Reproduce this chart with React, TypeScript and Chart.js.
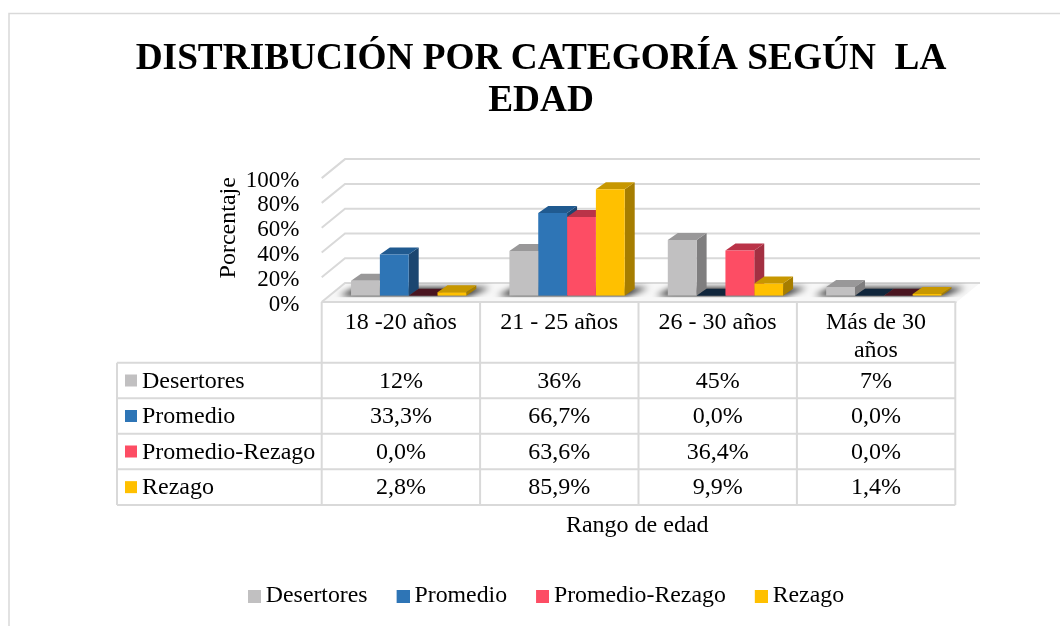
import React, { useEffect, useRef } from "react";
import { Chart, registerables } from "chart.js";

Chart.register(...registerables);

const categories = ["18 -20 años", "21 - 25 años", "26 - 30 años", ["Más de 30", "años"]];
const seriesNames = ["Desertores", "Promedio", "Promedio-Rezago", "Rezago"];
const desertores = [12, 36, 45, 7];
const promedio = [33.3, 66.7, 0, 0];
const promedioRezago = [0, 63.6, 36.4, 0];
const rezago = [2.8, 85.9, 9.9, 1.4];
const seriesValues = [desertores, promedio, promedioRezago, rezago];
const seriesDecimals = [0, 1, 1, 1];
const frontColors = ["#C1C0C1", "#2E75B6", "#FD4D64", "#FFC000"];
const topColors = ["#999899", "#205A90", "#BA3348", "#C79700"];
const sideColors = ["#7F7E7F", "#1C4670", "#A33042", "#A67D00"];
const zeroTopColors = ["#555555", "#10263C", "#4A1520", "#6B5000"];
const titleLines = ["DISTRIBUCIÓN POR CATEGORÍA SEGÚN  LA", "EDAD"];
const yTicks = [0, 20, 40, 60, 80, 100];

const SERIF = "'Liberation Serif', 'Times New Roman', serif";
const FS = 24;
const LEGEND_FS = 23.8;
const GRID = "#D9D9D9";
const DX = 10; // bar depth
const DY = 7;
const WALL_DX = 23.3;
const WALL_DY = 19;
const FLOOR_FRONT = 6.3; // distance from bar base to the front of the floor
const TABLE_LEFT = 117;
const COL_LEFT = 321.7;
const COL_W = 158.4;
const ROWS = [362.7, 398.3, 433.7, 469.3, 505];
const HEADER_TOP = 302;

function swatch(color: string) {
  const c = document.createElement("canvas");
  c.width = 20;
  c.height = 13;
  const g = c.getContext("2d")!;
  g.fillStyle = color;
  g.fillRect(7, 0, 13, 13);
  return c;
}

function poly(ctx: CanvasRenderingContext2D, pts: number[][], fill: string) {
  ctx.fillStyle = fill;
  ctx.beginPath();
  pts.forEach((p, i) => (i ? ctx.lineTo(p[0], p[1]) : ctx.moveTo(p[0], p[1])));
  ctx.closePath();
  ctx.fill();
}

const scenePlugin = {
  id: "scene",
  afterLayout(chart: any) {
    const lg = chart.legend;
    const pad = lg.options.labels.padding;
    const dy = 596 - (pad + LEGEND_FS / 2) - lg.top;
    lg.top += dy;
    lg.bottom += dy;
    lg.left += 5;
    lg.right += 5;
  },
  beforeDraw(chart: any) {
    const ctx: CanvasRenderingContext2D = chart.ctx;
    const y = chart.scales.y;
    const x0 = COL_LEFT;
    const xEnd = 980;
    ctx.save();
    // outer frame
    ctx.strokeStyle = GRID;
    ctx.lineWidth = 1.5;
    ctx.beginPath();
    ctx.moveTo(9, 626);
    ctx.lineTo(9, 13.5);
    ctx.lineTo(1060, 13.5);
    ctx.stroke();

    // floor
    const base = y.getPixelForValue(0) + FLOOR_FRONT;
    const fl = [
      [x0, base],
      [x0 + WALL_DX, base - WALL_DY],
      [xEnd, base - WALL_DY],
      [xEnd - WALL_DX, base],
    ];
    poly(ctx, fl, "#F7F7F7");

    // walls and gridlines
    ctx.strokeStyle = GRID;
    ctx.lineWidth = 2;
    yTicks.forEach((t) => {
      const py = y.getPixelForValue(t) + FLOOR_FRONT;
      ctx.beginPath();
      ctx.moveTo(x0, py);
      ctx.lineTo(x0 + WALL_DX, py - WALL_DY);
      ctx.lineTo(xEnd, py - WALL_DY);
      ctx.stroke();
    });
    ctx.beginPath();
    ctx.moveTo(x0, base);
    ctx.lineTo(xEnd - WALL_DX, base);
    ctx.strokeStyle = "#E4E4E4";
    ctx.stroke();

    // floor shadow under every group of bars
    const m0 = chart.getDatasetMeta(0).data;
    const m3 = chart.getDatasetMeta(3).data;
    const yBase = y.getPixelForValue(0);
    ctx.save();
    ctx.beginPath();
    ctx.rect(x0 + 6, yBase - 13, xEnd - x0, 14.5);
    ctx.clip();
    ctx.filter = "blur(3px)";
    m0.forEach((b: any, i: number) => {
      const l = b.x - b.width / 2;
      const r = m3[i].x + m3[i].width / 2;
      poly(
        ctx,
        [
          [l - 12, yBase],
          [l + 6, yBase - DY - 1],
          [r + DX + 14, yBase - DY - 1],
          [r + 2, yBase],
        ],
        "rgba(0,0,0,0.9)"
      );
    });
    ctx.filter = "none";
    ctx.restore();

    ctx.restore();
  },
  beforeDatasetsDraw(chart: any) {
    const ctx: CanvasRenderingContext2D = chart.ctx;
    ctx.save();
    categories.forEach((_, c) => {
      seriesNames.forEach((_, s) => {
        const b = chart.getDatasetMeta(s).data[c];
        const l = b.x - b.width / 2;
        const r = b.x + b.width / 2;
        const t = b.y;
        const bt = b.base;
        if (seriesValues[s][c] > 0) {
          poly(ctx, [[r, t], [r + DX, t - DY], [r + DX, bt - DY], [r, bt]], sideColors[s]);
          poly(ctx, [[l, t], [l + DX, t - DY], [r + DX, t - DY], [r, t]], topColors[s]);
        } else {
          poly(ctx, [[l, t], [l + DX, t - DY], [r + DX, t - DY], [r, t]], zeroTopColors[s]);
        }
      });
    });
    ctx.restore();
  },
  afterDraw(chart: any) {
    const ctx: CanvasRenderingContext2D = chart.ctx;
    ctx.save();
    const colLines = categories.map((_, i) => COL_LEFT + COL_W * i);
    const right = COL_LEFT + COL_W * categories.length;
    ctx.strokeStyle = GRID;
    ctx.lineWidth = 2;
    ctx.beginPath();
    [...colLines, right].forEach((x) => {
      ctx.moveTo(x, HEADER_TOP);
      ctx.lineTo(x, ROWS[ROWS.length - 1]);
    });
    ctx.moveTo(COL_LEFT, HEADER_TOP);
    ctx.lineTo(right, HEADER_TOP);
    ROWS.forEach((r) => {
      ctx.moveTo(TABLE_LEFT, r);
      ctx.lineTo(right, r);
    });
    ctx.moveTo(TABLE_LEFT, ROWS[0]);
    ctx.lineTo(TABLE_LEFT, ROWS[ROWS.length - 1]);
    ctx.stroke();

    ctx.font = `${FS}px ${SERIF}`;
    ctx.textBaseline = "middle";
    seriesNames.forEach((name, s) => {
      const cy = (ROWS[s] + ROWS[s + 1]) / 2;
      ctx.fillStyle = frontColors[s];
      ctx.fillRect(125, cy - 6, 12, 12);
      ctx.fillStyle = "#000";
      ctx.textAlign = "left";
      ctx.fillText(name, 142, cy + 0.8);
      ctx.textAlign = "center";
      seriesValues[s].forEach((v, c) => {
        const txt = v.toFixed(seriesDecimals[s]).replace(".", ",") + "%";
        ctx.fillText(txt, COL_LEFT + COL_W * (c + 0.5), cy + 0.8);
      });
    });
    ctx.restore();
  },
};

export default function App() {
  const ref = useRef<HTMLCanvasElement>(null);
  useEffect(() => {
    const chart = new Chart(ref.current!, {
      type: "bar",
      data: {
        labels: categories as any,
        datasets: seriesNames.map((name, s) => ({
          label: name,
          data: seriesValues[s],
          backgroundColor: frontColors[s],
          borderWidth: 0,
          barPercentage: 1,
          categoryPercentage: 0.728,
        })),
      },
      plugins: [scenePlugin],
      options: {
        responsive: false,
        animation: false,
        font: { family: SERIF },
        color: "#000",
        layout: { padding: { left: 119, right: 97, top: 0, bottom: 0 } },
        plugins: {
          tooltip: { enabled: false },
          title: {
            display: true,
            text: titleLines,
            color: "#000",
            font: { family: SERIF, size: 37.3, weight: "bold", lineHeight: 42 / 37.3 },
            padding: { top: 38.5, bottom: 49.3 },
          },
          legend: {
            position: "bottom",
            labels: {
              color: "#000",
              font: { family: SERIF, size: LEGEND_FS },
              padding: 29,
              usePointStyle: true,
              pointStyleWidth: 6,
              boxHeight: 13,
              generateLabels: () =>
                seriesNames.map((name, s) => ({
                  text: name,
                  pointStyle: swatch(frontColors[s]),
                  fillStyle: frontColors[s],
                  strokeStyle: frontColors[s],
                  lineWidth: 0,
                  hidden: false,
                  datasetIndex: s,
                })),
            },
          },
        },
        scales: {
          x: {
            grid: { display: false },
            border: { display: false },
            afterFit: (s: any) => {
              s.height = 626 - 295.7 - s.chart.legend.height;
            },
            ticks: {
              color: "#000",
              font: { family: SERIF, size: FS, lineHeight: 28 / FS },
              maxRotation: 0,
              minRotation: 0,
              autoSkip: false,
              padding: 5,
              labelOffset: -7.9,
            },
            title: {
              display: true,
              text: "Rango de edad   ",
              color: "#000",
              font: { family: SERIF, size: FS },
              padding: { top: 0, bottom: 23 },
            },
          },
          y: {
            min: 0,
            max: 100,
            grid: { display: false },
            border: { display: false },
            afterFit: (s: any) => {
              s.width = 329.5 - 119;
            },
            afterBuildTicks: (s: any) => {
              s.ticks = yTicks.map((value) => ({ value }));
            },
            ticks: {
              color: "#000",
              font: { family: SERIF, size: 23 },
              padding: 22,
              labelOffset: 8.8,
              autoSkip: false,
              callback: (v: any) => `${v}%`,
            },
            title: {
              display: true,
              text: "  Porcentaje",
              color: "#000",
              font: { family: SERIF, size: FS },
              padding: { top: 95, bottom: 0 },
            },
          },
        },
      },
    } as any);
    return () => chart.destroy();
  }, []);
  return (
    <div style={{ position: "absolute", left: 0, top: 0, width: 1060, height: 626, background: "#fff" }}>
      <canvas ref={ref} width={1060} height={626} style={{ display: "block" }} />
    </div>
  );
}
